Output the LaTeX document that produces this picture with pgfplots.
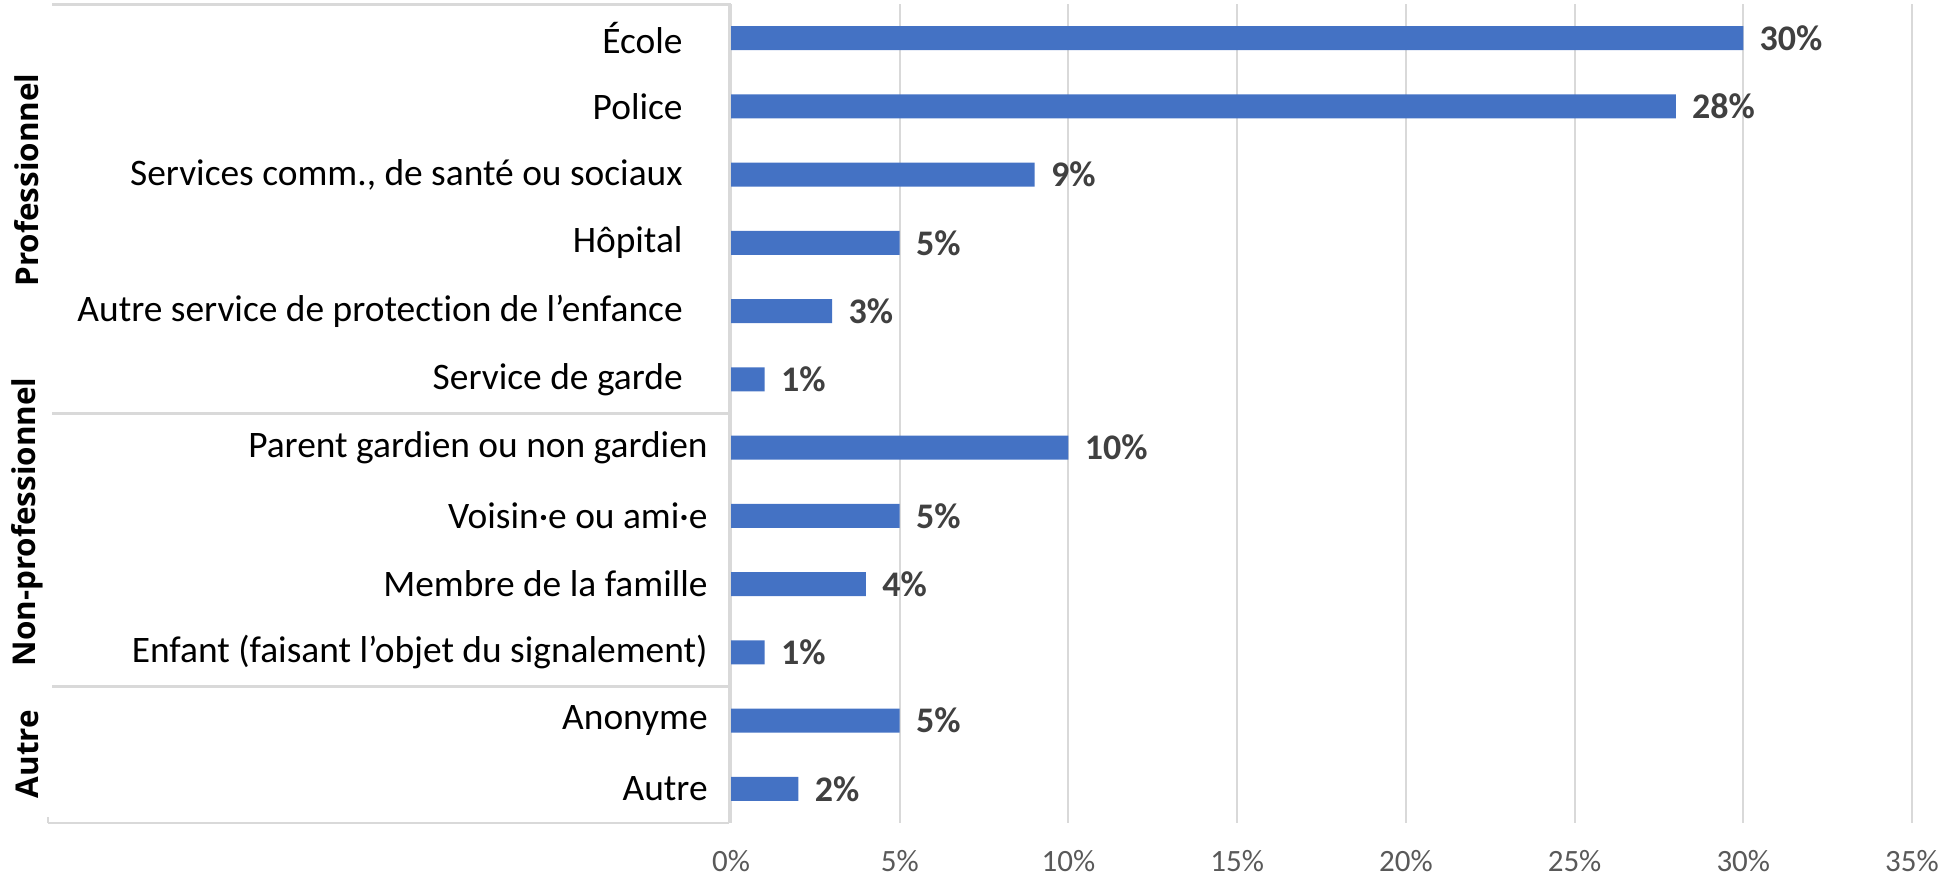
\documentclass[border=0pt]{standalone}
\usepackage{pgfplots}
\pgfplotsset{compat=1.18}
\usepackage{fontspec}
\setmainfont{Carlito}[Ligatures={NoCommon}]
\newfontfamily\grpfont{Open Sans}
\definecolor{barblue}{HTML}{4472C4}
\definecolor{gridgray}{HTML}{D9D9D9}
\definecolor{ticktext}{HTML}{595959}
\definecolor{lbltext}{HTML}{404040}
\begin{document}
\begin{tikzpicture}[x=1pt,y=1pt]
\begin{axis}[
  at={(365.5pt,28.5pt)}, anchor=south west,
  scale only axis, width=590.5pt, height=409.5pt,
  xbar, bar width=12pt,
  enlargelimits=false,
  xmin=0, xmax=35, ymin=-0.5, ymax=11.5, y dir=reverse,
  xtick={0,5,...,35},
  xticklabels={0\%,5\%,10\%,15\%,20\%,25\%,30\%,35\%},
  xticklabel style={font=\fontsize{15.5}{17}\selectfont, text=ticktext, anchor=north, inner sep=0pt, yshift=-13.5pt},
  ytick={0,...,11},
  yticklabels={{École\hspace*{12.5pt}},{Police\hspace*{12.5pt}},{Services comm., de santé ou sociaux\hspace*{12.5pt}},{Hôpital\hspace*{12.5pt}},{Autre service de protection de l’enfance\hspace*{12.5pt}},{Service de garde\hspace*{12.5pt}},{Parent gardien ou non gardien},{Voisin·e ou ami·e},{Membre de la famille},{Enfant (faisant l’objet du signalement)},{Anonyme},{Autre}},
  yticklabel style={font=\fontsize{18.7}{21}\selectfont, text=black, anchor=east, inner sep=0pt, xshift=-11.5pt},
  axis line style={draw=none},
  major tick length=0pt,
  xmajorgrids, grid style={gridgray, line width=1pt},
  point meta=explicit symbolic,
  nodes near coords={\pgfplotspointmeta\%},
  every node near coord/.append style={font=\bfseries\fontsize{18}{20}\selectfont, text=lbltext, anchor=west, inner sep=0pt, xshift=8pt},
  clip=false,
]
\addplot[fill=barblue, draw=none] coordinates {
(30,0) [30]
(28,1) [28]
(9,2) [9]
(5,3) [5]
(3,4) [3]
(1,5) [1]
(10,6) [10]
(5,7) [5]
(4,8) [4]
(1,9) [1]
(5,10) [5]
(2,11) [2]
};
\end{axis}
\draw[gridgray, line width=1.5pt] (26,437.5) -- (364.5,437.5) -- (364.5,28.5);
\draw[gridgray, line width=1.5pt] (26,233.25) -- (364.5,233.25);
\draw[gridgray, line width=1.5pt] (26,96.75) -- (364.5,96.75);
\draw[gridgray, line width=0.8pt] (24,28.5) -- (364.5,28.5);
\draw[gridgray, line width=1pt] (24,28.5) -- (24,31.5);
\node[rotate=90, font=\grpfont\bfseries\fontsize{15.7}{18}\selectfont] at (13.5,350) {Professionnel};
\node[rotate=90, font=\grpfont\bfseries\fontsize{15.7}{18}\selectfont] at (13.5,179) {Non-professionnel};
\node[rotate=90, font=\grpfont\bfseries\fontsize{15.7}{18}\selectfont] at (13.5,63) {Autre};
\pgfresetboundingbox
\path (0,0) rectangle (973.5,440);
\end{tikzpicture}
\end{document}
